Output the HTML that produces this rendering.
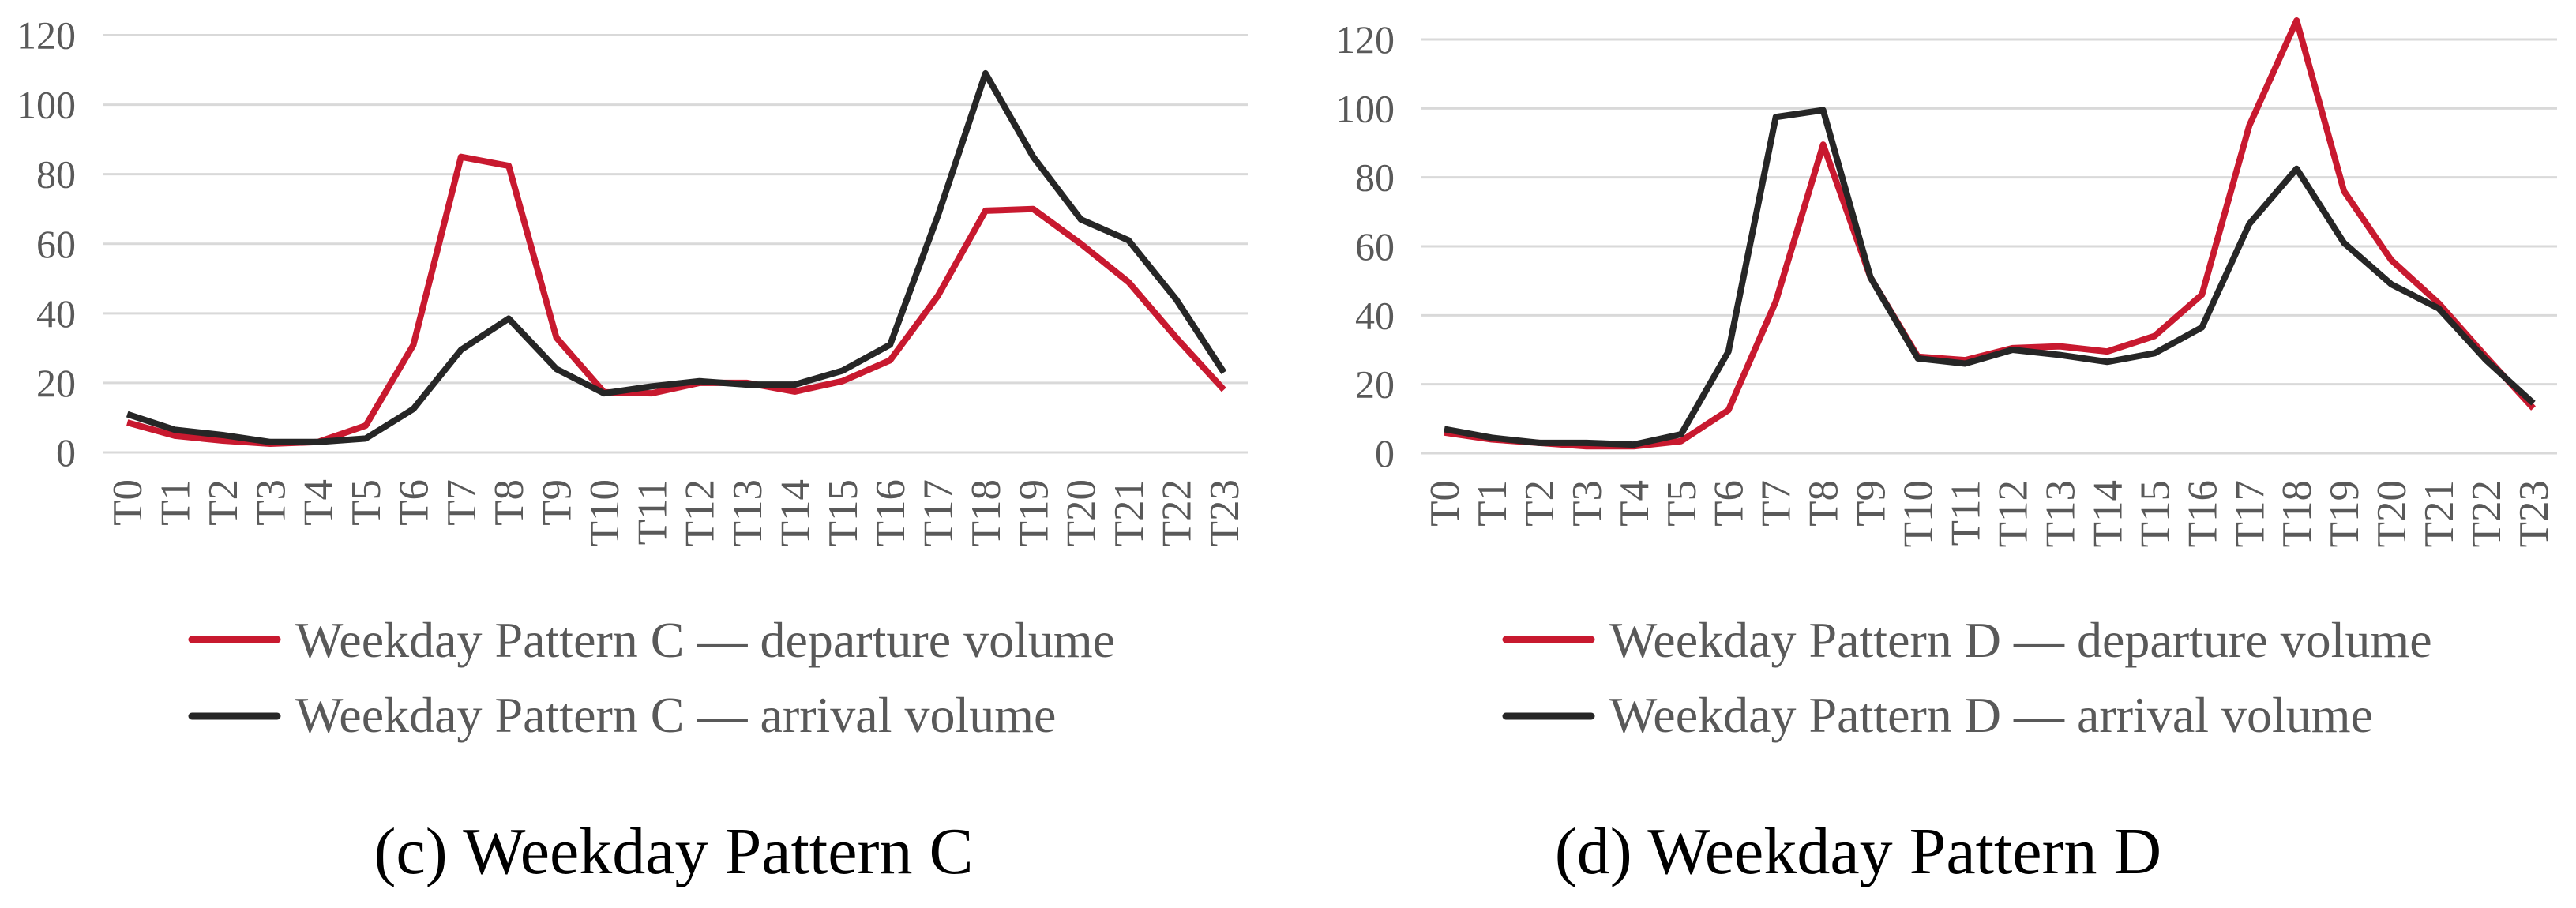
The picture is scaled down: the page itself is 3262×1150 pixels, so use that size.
<!DOCTYPE html>
<html><head><meta charset="utf-8"><style>
html,body{margin:0;padding:0;background:#fff}
svg{display:block}
text{font-family:"Liberation Serif",serif}
</style></head><body>
<svg id="fig" width="3262" height="1150" viewBox="0 0 3262 1150" xmlns="http://www.w3.org/2000/svg"></svg>
<script>
const categories = ["T0","T1","T2","T3","T4","T5","T6","T7","T8","T9","T10","T11","T12","T13","T14","T15","T16","T17","T18","T19","T20","T21","T22","T23"];
const yTicks = [0,20,40,60,80,100,120];
const cDeparture = [8.6,4.8,3.4,2.5,3,7.7,30.9,85,82.4,33,17.3,17,20,20,17.5,20.5,26.5,45,69.5,70,60,49,33,18];
const cArrival = [11,6.5,5,3,3,4,12.5,29.5,38.5,24,17,19,20.5,19.5,19.5,23.5,31,68,109,85,67,61,44,23];
const dDeparture = [6,4,3,2,2,3.5,12.5,44,89.5,51,28,27,30.5,31,29.5,34,46,95,125.5,76,56,43.5,28,13];
const dArrival = [7,4.5,3,3,2.5,5.5,29.5,97.5,99.5,51,27.5,26,30,28.5,26.5,29,36.5,66.5,82.5,61,49,42,27,14.5];

const NS="http://www.w3.org/2000/svg";
const svg=document.getElementById('fig');
function mk(tag,attrs,parent){const e=document.createElementNS(NS,tag);for(const k in attrs)e.setAttribute(k,attrs[k]);(parent||svg).appendChild(e);return e;}

function chart(cfg){
  const g=mk('g',{});
  
  
  const n=categories.length;
  const step=(cfg.x1-cfg.x0)/n;
  const xs=i=>cfg.x0+step*(i+0.5);
  const ys=v=>cfg.y0-(v/120)*(cfg.y0-cfg.y120);
  yTicks.forEach(t=>{
    const l=mk('line',{x1:cfg.x0,x2:cfg.x1,y1:ys(t),y2:ys(t),stroke:'#d9d9d9','stroke-width':3},g);
    
    
    const tx=mk('text',{x:cfg.labelRight,y:ys(t)+17,'text-anchor':'end','font-size':50,fill:'#595959'},g);
    tx.textContent=t;
    
    
  });
  categories.forEach((c,i)=>{
    const x=xs(i);
    const tx=mk('text',{x:0,y:0,'text-anchor':'end','font-size':53,fill:'#595959',transform:`translate(${x+18},${cfg.y0+34}) rotate(-90)`},g);
    tx.textContent=c;
    
    
  });
  [[cfg.dep,'#c8192f','departure-line'],[cfg.arr,'#262626','arrival-line']].forEach(([arr,col,nm])=>{
    const p=mk('polyline',{points:arr.map((v,i)=>xs(i)+','+ys(v)).join(' '),fill:'none',stroke:col,'stroke-width':8,'stroke-linejoin':'round'},g);
    
    
  });
  [[cfg.legDep,'#c8192f',832,810,'legend-departure'],[cfg.legArr,'#262626',927,907,'legend-arrival']].forEach(([txt,col,by,ly,nm])=>{
    const lg=mk('g',{},g);
    
    
    mk('line',{x1:cfg.legX,x2:cfg.legX+108,y1:ly,y2:ly,stroke:col,'stroke-width':9,'stroke-linecap':'round'},lg);
    const t=mk('text',{x:cfg.legX+131,y:by,'font-size':64,fill:'#595959'},lg);
    t.textContent=txt;
  });
  const cap=mk('text',{x:cfg.capX,y:1106,'text-anchor':'middle','font-size':84,fill:'#000'},g);
  cap.textContent=cfg.caption;
  
  
}
chart({name:'chart-pattern-c',x0:131,x1:1580,y0:573,y120:44.5,labelRight:96,dep:cDeparture,arr:cArrival,
  legDep:'Weekday Pattern C — departure volume',legArr:'Weekday Pattern C — arrival volume',legX:243,capX:853,caption:'(c) Weekday Pattern C'});
chart({name:'chart-pattern-d',x0:1799,x1:3238,y0:574,y120:50,labelRight:1766,dep:dDeparture,arr:dArrival,
  legDep:'Weekday Pattern D — departure volume',legArr:'Weekday Pattern D — arrival volume',legX:1907,capX:2353,caption:'(d) Weekday Pattern D'});
</script>
</body></html>
